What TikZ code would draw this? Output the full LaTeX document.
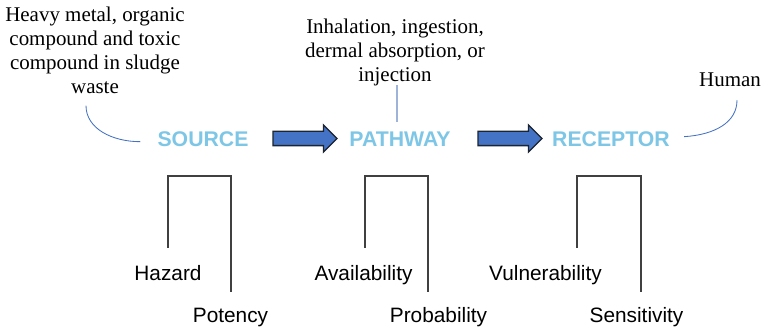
\documentclass[tikz,border=0pt]{standalone}
\usepackage{fontspec}
\setmainfont{Liberation Serif}
\setsansfont{Liberation Sans}
\usetikzlibrary{calc,shapes.arrows}
\definecolor{SprSky}{HTML}{7EC6E6}
\definecolor{SprBlue}{HTML}{4472C4}
\definecolor{SprEdge}{HTML}{1C2430}
\definecolor{SprPale}{HTML}{9DB3D9}
\definecolor{SprLine}{HTML}{404040}
\tikzset{
  spr stage/.style={
    text=SprSky,
    inner sep=0pt,
    anchor=base,
    font=\sffamily\bfseries\fontsize{15.1}{18}\selectfont
  },
  spr note/.style={
    text=black,
    inner sep=0pt,
    align=center,
    font=\fontsize{14.9}{17.07}\selectfont
  },
  spr factor/.style={
    text=black,
    inner sep=0pt,
    anchor=base,
    font=\sffamily\fontsize{14.8}{17}\selectfont
  },
  spr flow/.style={
    single arrow,
    draw=SprEdge,
    fill=SprBlue,
    line width=0.9pt,
    minimum height=1.6cm,
    minimum width=0.65cm,
    inner sep=0.1625cm,
    single arrow head extend=0.1625cm,
    single arrow tip angle=90
  },
  spr link/.style={draw=SprBlue,line width=0.6pt},
  spr stem/.style={draw=SprPale,line width=0.8pt},
  spr bracket/.style={draw=SprLine,line width=0.9pt}
}

\begin{document}
\begin{tikzpicture}[x=0.025cm,y=-0.025cm]
  \useasboundingbox (0,0) rectangle (763,333);

  % stages
  \node[spr stage] (source) at (203,147) {SOURCE};
  \node[spr stage] (pathway) at (400,147) {PATHWAY};
  \node[spr stage] (receptor) at (611,147) {RECEPTOR};
  \node[spr flow] (flowA) at (301.5,138.5) {};
  \node[spr flow] (flowB) at (506.5,138.5) {};

  % notes
  \node[spr note] (sludge) at (95,50) {Heavy metal, organic\\compound and toxic\\compound in sludge\\waste};
  \node[spr note] (routes) at (395,52.4) {Inhalation, ingestion,\\dermal absorption, or\\injection};
  \node[spr note] (human) at (730,80) {Human};

  \draw[spr link] ($(sludge.south)+(-9,12)$) .. controls ($(sludge.south)+(-9,35)$) and ($(source.west)+(-45,2)$) .. ($(source.west)+(-17,2)$);
  \draw[spr link] ($(receptor.east)+(14,-3)$) .. controls ($(receptor.east)+(45,-5)$) and ($(human.south)+(7,35)$) .. ($(human.south)+(7,13)$);
  \draw[spr stem] ($(routes.south)+(2,-1)$) -- ($(pathway.north)+(-3,-10)$);

  % factors
  \node[spr factor] (hazard) at (168,281) {Hazard};
  \node[spr factor] (potency) at (230.5,323) {Potency};
  \node[spr factor] (avail) at (363.5,281) {Availability};
  \node[spr factor] (prob) at (438.5,323) {Probability};
  \node[spr factor] (vuln) at (545.5,281) {Vulnerability};
  \node[spr factor] (sens) at (636.5,323) {Sensitivity};

  \foreach \l/\r in {168/231,365/428,577/641}
    \draw[spr bracket] (\l,248) |- (\r,176) -- (\r,292);
\end{tikzpicture}
\end{document}
